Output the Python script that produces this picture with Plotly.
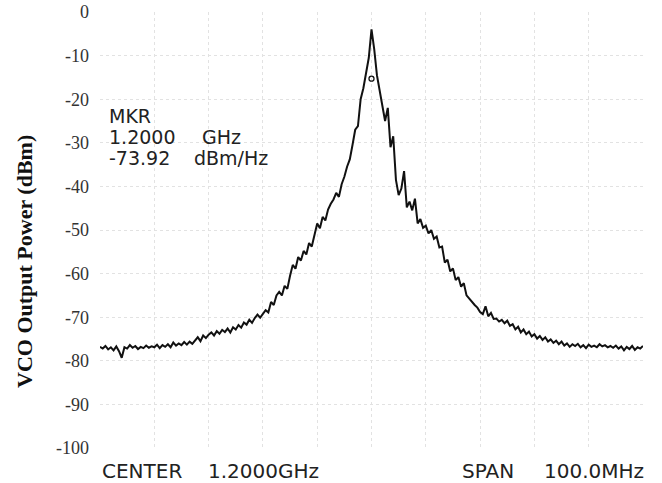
import numpy as np
import plotly.graph_objects as go

# Frequency offset from centre (MHz), analyzer sweep grid: -50 .. +50 MHz in 0.5 MHz steps
freq_offset_mhz = np.arange(-50.0, 50.01, 0.5)

power_dbm = [
    -76.8, -77.2, -76.6, -77.4, -76.9, -77.6, -76.7, -77.8, -79.3, -76.9,
    -77.2, -76.4, -77.0, -76.6, -77.3, -76.8, -77.1, -76.5, -77.0, -76.7,
    -76.9, -76.3, -77.1, -76.4, -76.8, -76.2, -76.9, -75.8, -76.5, -76.0,
    -76.4, -75.7, -76.3, -75.6, -76.1, -75.4, -74.6, -75.5, -74.2, -74.8,
    -74.0, -73.5, -74.2, -73.2, -73.8, -72.9, -73.4, -72.6, -73.5, -72.3,
    -72.8, -71.8, -72.4, -71.2, -71.7, -70.6, -71.3, -70.2, -69.4, -70.1,
    -69.3, -68.4, -68.9, -66.5, -67.2, -65.0, -64.2, -65.0, -62.8, -63.5,
    -60.5, -58.0, -58.9, -56.2, -57.0, -54.8, -55.6, -53.0, -53.8, -51.0,
    -48.5, -49.6, -47.0, -47.8, -45.3, -44.0, -43.0, -41.5, -42.4, -39.5,
    -37.8, -35.5, -33.8, -30.5, -27.0, -26.2, -20.0, -17.5, -14.0, -10.5,
    -4.0, -8.5, -14.5, -18.5, -21.5, -25.0, -22.0, -31.0, -28.5, -38.5,
    -42.0, -40.5, -36.5, -44.8, -43.5, -45.5, -42.8, -48.5, -47.5, -49.5,
    -49.0, -50.8, -50.0, -52.0, -51.5, -54.0, -53.8, -57.5, -56.8, -59.5,
    -58.8, -61.5, -60.8, -63.0, -62.2, -65.0, -65.8, -66.5, -67.2, -67.8,
    -68.8, -69.3, -67.5, -69.8, -69.0, -70.4, -70.3, -71.0, -70.6, -71.4,
    -70.8, -72.0, -71.6, -72.8, -72.2, -73.5, -72.8, -73.9, -73.3, -74.4,
    -73.9, -74.9, -74.3, -75.2, -74.6, -75.6, -75.1, -75.9, -75.4, -76.2,
    -75.6, -76.5, -76.0, -76.8, -76.2, -76.6, -76.1, -76.9, -76.4, -77.1,
    -76.3, -76.8, -76.5, -76.9, -76.2, -76.7, -76.4, -76.9, -76.6, -77.0,
    -76.5, -77.2, -76.7, -77.6, -76.8, -77.3, -76.6, -77.5, -76.9, -77.2,
    -76.6,
]

# Marker position
marker_x = [0.0]
marker_y = [-15.3]

y_ticks = [0, -10, -20, -30, -40, -50, -60, -70, -80, -90, -100]
x_grid = [-50, -40, -30, -20, -10, 0, 10, 20, 30, 40, 50]

mkr_lines = [("MKR", ""), ("1.2000", "GHz"), ("-73.92", "dBm/Hz")]
bottom_left = ("CENTER", "1.2000GHz")
bottom_right = ("SPAN", "100.0MHz")
y_title = "VCO Output Power (dBm)"

W, H = 662, 483
L, R, T, B = 100, 19, 12, 35
PW, PH = W - L - R, H - T - B


def px(x):
    return (x - L) / PW


def py(y):
    return (H - B - y) / PH


fig = go.Figure()
fig.add_trace(go.Scatter(
    x=freq_offset_mhz, y=power_dbm, mode="lines",
    line=dict(color="#111111", width=2, shape="linear"),
    showlegend=False, hoverinfo="skip",
))
fig.add_trace(go.Scatter(
    x=marker_x, y=marker_y, mode="markers",
    marker=dict(symbol="circle-open", size=5, color="#111111", line=dict(width=1.3)),
    showlegend=False, hoverinfo="skip",
))

tech_font = dict(family="DejaVu Sans", size=19, color="#222222")
annotations = []
line_centers = [116, 137, 158]
for (a, b), yc in zip(mkr_lines, line_centers):
    annotations.append(dict(text=a, x=px(107), y=py(yc), xref="paper", yref="paper",
                            xanchor="left", yanchor="middle", showarrow=False, font=tech_font))
    if b:
        bx = 200 if b == "GHz" else 192
        annotations.append(dict(text=b, x=px(bx), y=py(yc), xref="paper", yref="paper",
                                xanchor="left", yanchor="middle", showarrow=False, font=tech_font))

bot_font = dict(family="DejaVu Sans", size=20, color="#222222")
for text, xl in [(bottom_left[0], 100), (bottom_left[1], 206),
                 (bottom_right[0], 460), (bottom_right[1], 542)]:
    annotations.append(dict(text=text, x=px(xl), y=py(471), xref="paper", yref="paper",
                            xanchor="left", yanchor="middle", showarrow=False, font=bot_font))

annotations.append(dict(text="<b>" + y_title + "</b>", x=px(24), y=py(262), xref="paper", yref="paper",
                        xanchor="center", yanchor="middle", textangle=-90, showarrow=False,
                        font=dict(family="Liberation Serif", size=22, color="#111111")))

fig.update_layout(
    width=W, height=H,
    margin=dict(l=L, r=R, t=T, b=B, pad=0, autoexpand=False),
    paper_bgcolor="white", plot_bgcolor="white",
    annotations=annotations,
    xaxis=dict(range=[-50, 50], tickvals=x_grid, showticklabels=False, ticks="",
               showgrid=True, gridcolor="#e2e2e2", griddash="dot", gridwidth=1,
               zeroline=False, showline=False, fixedrange=True, automargin=False),
    yaxis=dict(range=[-100, 0], tickvals=y_ticks, ticktext=[str(v) for v in y_ticks],
               ticks="", ticklabelstandoff=10, automargin=False,
               tickfont=dict(family="Liberation Serif", size=18, color="#333333"),
               showgrid=True, gridcolor="#e2e2e2", griddash="dot", gridwidth=1,
               zeroline=False, showline=False, fixedrange=True),
)

fig.write_html("out.html")
